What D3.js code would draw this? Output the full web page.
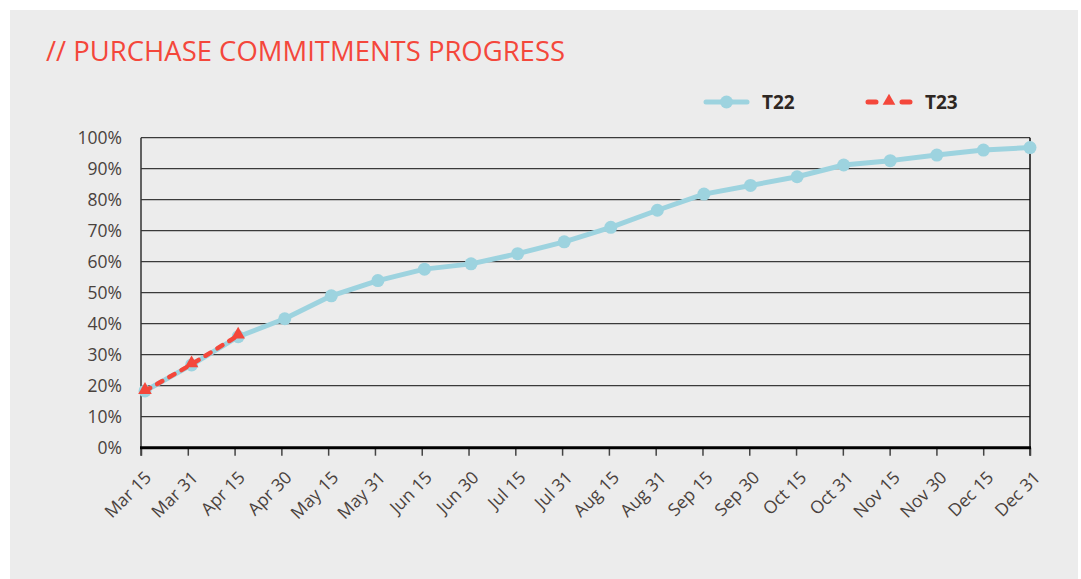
<!DOCTYPE html>
<html>
<head>
<meta charset="utf-8">
<script src="https://cdn.jsdelivr.net/npm/d3@7"></script>
<style>
  body { margin: 0; background: #ffffff; }
  svg { display: block; font-family: "Open Sans", sans-serif; }
</style>
</head>
<body>
<div id="chart"></div>
<script>
// chart data
const categories = ['Mar 15', 'Mar 31', 'Apr 15', 'Apr 30', 'May 15', 'May 31', 'Jun 15', 'Jun 30',
  'Jul 15', 'Jul 31', 'Aug 15', 'Aug 31', 'Sep 15', 'Sep 30', 'Oct 15', 'Oct 31',
  'Nov 15', 'Nov 30', 'Dec 15', 'Dec 31'];
const t22Values = [18.3, 26.7, 35.8, 41.6, 49.0, 53.9, 57.6, 59.3, 62.6, 66.4,
  71.1, 76.6, 81.8, 84.6, 87.4, 91.2, 92.6, 94.4, 96.0, 96.8];
const t23Values = [18.3, 26.9, 36.2];
const yTicks = [0, 10, 20, 30, 40, 50, 60, 70, 80, 90, 100];
const seriesNames = ['T22', 'T23'];

const width = 1081, height = 579;
const plot = {left: 141, right: 1030, top: 137.7, bottom: 447.7};
const blue = '#9dd3df', red = '#f4473b', textColor = '#4a423d';

const svg = d3.select('#chart')
  .append('svg')
  .attr('width', width)
  .attr('height', height);

// grey panel
svg.append('rect')
  .attr('x', 10).attr('y', 10)
  .attr('width', 1068).attr('height', 569)
  .attr('fill', '#ececec');

svg.append('text')
  .attr('x', 46).attr('y', 61)
  .attr('fill', red)
  .attr('font-size', 27)
  .attr('textLength', 519)
  .attr('lengthAdjust', 'spacingAndGlyphs')
  .text('// PURCHASE COMMITMENTS PROGRESS');

// scales: axis ticks on the plot edges, points sit a touch inside on the left
const xscale = d3.scalePoint().domain(categories).range([plot.left, plot.right]);
const xpoint = d3.scalePoint().domain(categories).range([plot.left + 4, plot.right]);
const yscale = d3.scaleLinear().domain([0, 100]).range([plot.bottom, plot.top]);

// gridlines
svg.append('g')
  .selectAll('line')
  .data(yTicks.filter(d => d > 0))
  .join('line')
  .attr('x1', plot.left).attr('x2', plot.right)
  .attr('y1', d => yscale(d)).attr('y2', d => yscale(d))
  .attr('stroke', '#3a3a3a')
  .attr('stroke-width', 1.3);

// y axis
const yaxis = d3.axisLeft(yscale).tickValues(yTicks).tickSize(0).tickPadding(19)
  .tickFormat(d => d + '%');
const yg = svg.append('g')
  .attr('transform', 'translate(' + plot.left + ',0)')
  .call(yaxis);
yg.select('.domain').remove();
yg.selectAll('text')
  .attr('fill', textColor)
  .attr('font-size', 17.5)
  .attr('font-family', '"Open Sans", sans-serif');

// left and right frame lines
svg.append('line')
  .attr('x1', plot.left).attr('x2', plot.left)
  .attr('y1', plot.top).attr('y2', plot.bottom + 8)
  .attr('stroke', '#333').attr('stroke-width', 1.5);
svg.append('line')
  .attr('x1', plot.right).attr('x2', plot.right)
  .attr('y1', plot.top).attr('y2', plot.bottom + 8)
  .attr('stroke', '#111').attr('stroke-width', 1.5);

// x axis
const xaxis = d3.axisBottom(xscale).tickSize(8).tickPadding(0);
const xg = svg.append('g')
  .attr('transform', 'translate(0,' + plot.bottom + ')')
  .call(xaxis);
xg.select('.domain').remove();
xg.selectAll('.tick line').attr('stroke', '#444').attr('stroke-width', 1.5);
xg.selectAll('.tick text')
  .attr('fill', textColor)
  .attr('font-size', 17.5)
  .attr('font-family', '"Open Sans", sans-serif')
  .attr('text-anchor', 'end')
  .attr('dy', '0.72em')
  .attr('y', 0)
  .attr('transform', 'translate(2,22) rotate(-45)');

svg.append('line')
  .attr('x1', plot.left - 1).attr('x2', plot.right + 1)
  .attr('y1', plot.bottom).attr('y2', plot.bottom)
  .attr('stroke', '#000').attr('stroke-width', 3);

// T22 series
const line22 = d3.line()
  .x((d, i) => xpoint(categories[i]))
  .y(d => yscale(d));
svg.append('path')
  .datum(t22Values)
  .attr('d', line22)
  .attr('fill', 'none')
  .attr('stroke', blue)
  .attr('stroke-width', 5)
  .attr('stroke-linejoin', 'round');
svg.append('g')
  .selectAll('circle')
  .data(t22Values)
  .join('circle')
  .attr('cx', (d, i) => xpoint(categories[i]))
  .attr('cy', d => yscale(d))
  .attr('r', 6.5)
  .attr('fill', blue);

// T23 series
svg.append('path')
  .datum(t23Values)
  .attr('d', line22)
  .attr('fill', 'none')
  .attr('stroke', red)
  .attr('stroke-width', 4.5)
  .attr('stroke-dasharray', '6,8')
  .attr('stroke-linecap', 'round');
const tri = d3.symbol().type(d3.symbolTriangle).size(80);
svg.append('g')
  .selectAll('path')
  .data(t23Values)
  .join('path')
  .attr('d', tri)
  .attr('transform', (d, i) => 'translate(' + xpoint(categories[i]) + ',' + (yscale(d) - 1) + ')')
  .attr('fill', red);

// legend
const legend = svg.append('g');
legend.append('line')
  .attr('x1', 706).attr('x2', 747).attr('y1', 102).attr('y2', 102)
  .attr('stroke', blue).attr('stroke-width', 5).attr('stroke-linecap', 'round');
legend.append('circle')
  .attr('cx', 726.5).attr('cy', 102).attr('r', 6.5).attr('fill', blue);
legend.append('line')
  .attr('x1', 868).attr('x2', 911).attr('y1', 102).attr('y2', 102)
  .attr('stroke', red).attr('stroke-width', 5).attr('stroke-linecap', 'round')
  .attr('stroke-dasharray', '8,26');
legend.append('path')
  .attr('d', d3.symbol().type(d3.symbolTriangle).size(70))
  .attr('transform', 'translate(889,101)')
  .attr('fill', red);
legend.selectAll('text')
  .data(seriesNames)
  .join('text')
  .attr('x', (d, i) => i === 0 ? 762 : 925)
  .attr('y', 109)
  .attr('font-size', 19)
  .attr('font-weight', 'bold')
  .attr('fill', '#2e2723')
  .text(d => d);
</script>
</body>
</html>
